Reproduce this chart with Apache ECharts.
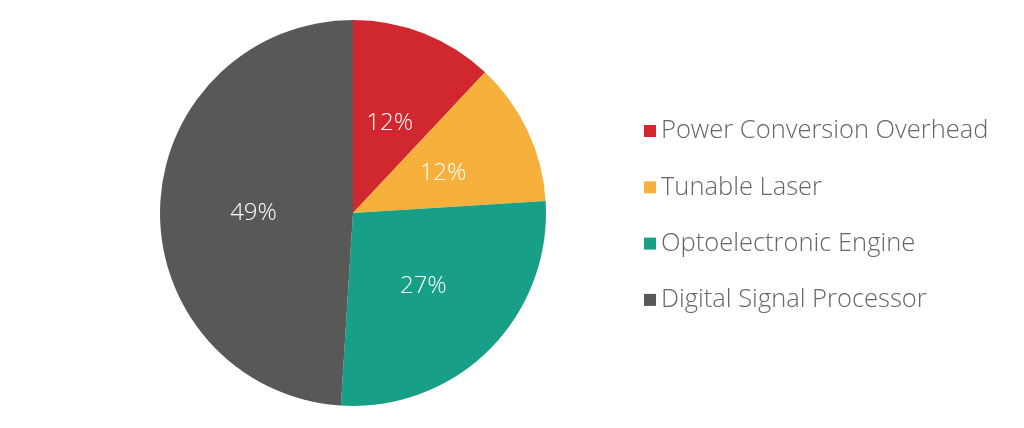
<!DOCTYPE html>
<html><head><meta charset="utf-8">
<script src="https://cdn.jsdelivr.net/npm/echarts@6/dist/echarts.min.js"></script>
<style>html,body{margin:0;padding:0;background:#fff}#c{width:1024px;height:428px}</style>
</head><body><div id="c"></div>
<script>
const categories = ["Power Conversion Overhead", "Tunable Laser", "Optoelectronic Engine", "Digital Signal Processor"];
const values = [12, 12, 27, 49];
const colors = ["#D1282F", "#F6B13D", "#189F87", "#585856"];

const chart = echarts.init(document.getElementById('c'), null, {renderer: 'canvas'});
chart.setOption({
  animation: false,
  color: colors,
  legend: {
    orient: 'vertical',
    left: 639,
    top: 113,
    itemWidth: 12,
    itemHeight: 12,
    itemGap: 30.3,
    icon: 'rect',
    textStyle: {fontFamily: 'Open Sans', fontWeight: 300, fontSize: 25.5, color: '#666', padding: [0,0,0,0]},
    data: categories
  },
  series: [{
    type: 'pie',
    center: [353, 213],
    radius: [0, 193],
    startAngle: 90,
    clockwise: true,
    label: {
      show: true,
      position: 'inside',
      formatter: '{c}%',
      color: '#fff',
      fontFamily: 'Open Sans',
      fontWeight: 300,
      fontSize: 24,
      offset: [0, 3]
    },
    labelLine: {show: false},
    itemStyle: {borderWidth: 0},
    emphasis: {disabled: true},
    data: categories.map((n, i) => ({name: n, value: values[i]}))
  }]
});
</script></body></html>
